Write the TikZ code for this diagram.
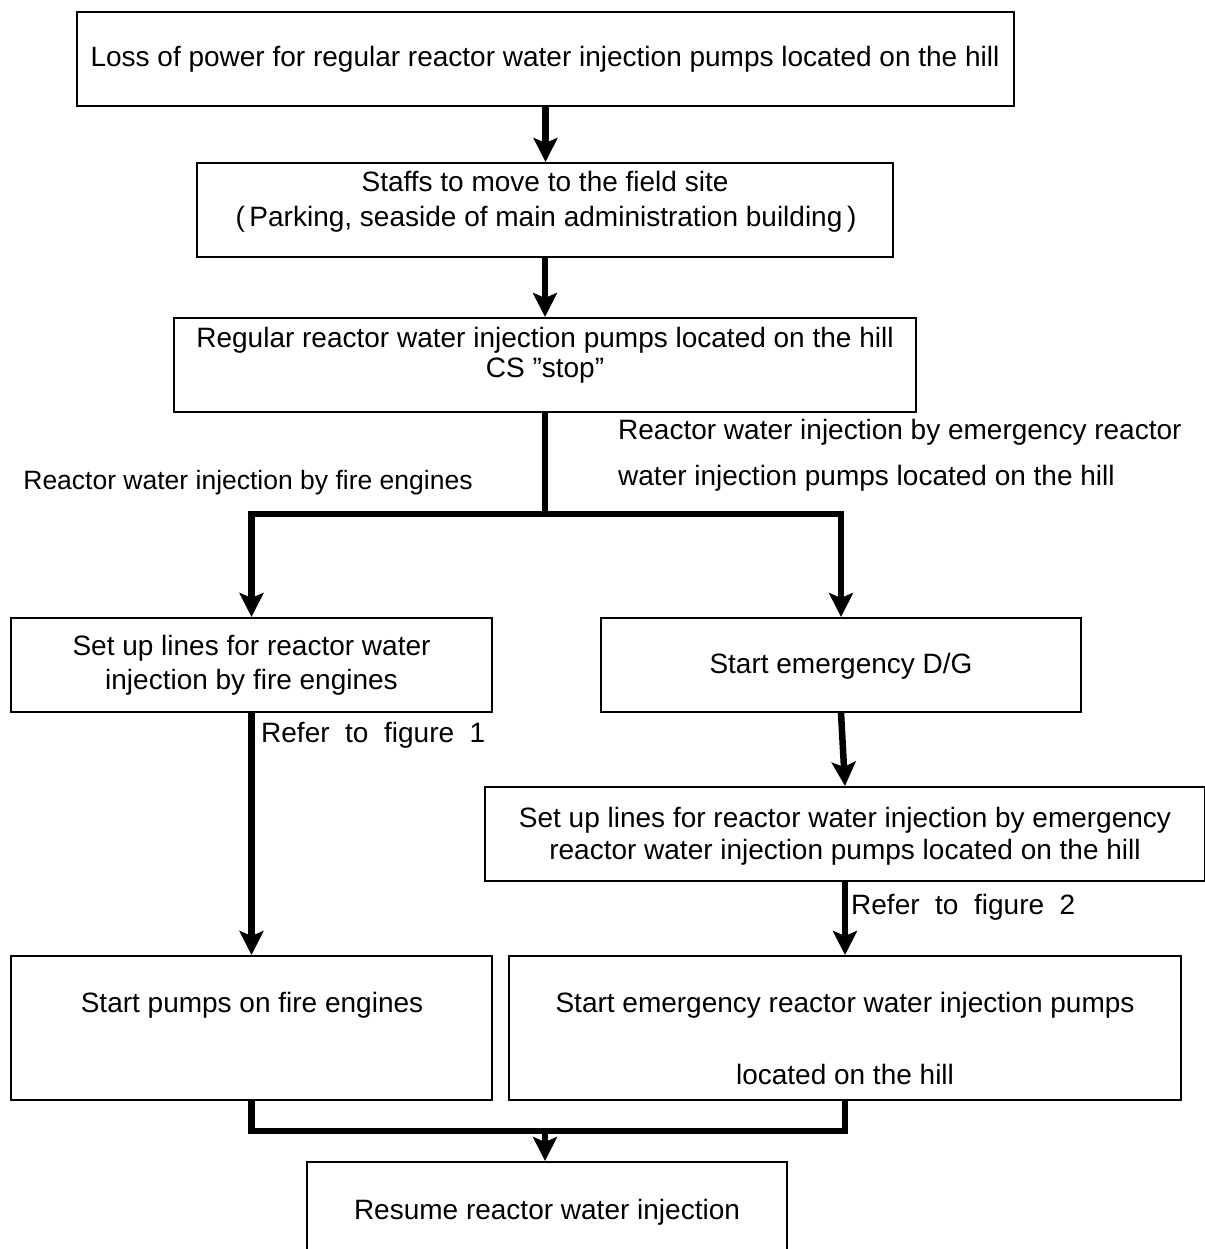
\documentclass[tikz,border=0pt]{standalone}
\usepackage{fontspec}
\setmainfont{Liberation Sans}
\usetikzlibrary{arrows.meta}
\begin{document}
\begin{tikzpicture}[x=1pt,y=-1pt,
  box/.style={draw,line width=2pt,inner sep=0pt,minimum width=#1},
  txt/.style={inner sep=0pt,text height=20pt,text depth=6pt,font=\fontsize{28}{34}\selectfont},
  small/.style={inner sep=0pt,text height=19pt,text depth=6pt,font=\fontsize{26.5}{32}\selectfont},
  flow/.style={line width=6.5pt},
  arr/.style={line width=6.5pt,-{Stealth[length=24pt,width=24pt,inset=5pt]}}]
\useasboundingbox (0,0) rectangle (1204,1249);
\fill[white] (0,0) rectangle (1204,1249);

% boxes
\node[box=937pt,minimum height=94pt] (b1) at (545.5,59) {};
\node[box=696pt,minimum height=94pt] (b2) at (545,210) {};
\node[box=742pt,minimum height=94pt] (b3) at (545,365) {};
\node[box=481pt,minimum height=94pt] (b4) at (251.5,665) {};
\node[box=480pt,minimum height=94pt] (b5) at (841,665) {};
\node[box=720pt,minimum height=94pt] (b6) at (845,834) {};
\node[box=481pt,minimum height=144pt] (b7) at (251.5,1028) {};
\node[box=672pt,minimum height=144pt] (b8) at (845,1028) {};
\node[box=480pt,minimum height=100pt] (b9) at (547,1212) {};

% box texts
\node[txt] (t1) at (545,60) {Loss of power for regular reactor water injection pumps located on the hill};
\node[txt] (t2a) at (545,185) {Staffs to move to the field site};
\node[txt] (t2b) at (546,220) {(\,Parking, seaside of main administration building\,)};
\node[txt] (t3a) at (545,340) {Regular reactor water injection pumps located on the hill};
\node[txt] (t3b) at (545,370) {CS ”stop”};
\node[txt] (t4a) at (251.5,648) {Set up lines for reactor water};
\node[txt] (t4b) at (251.5,682) {injection by fire engines};
\node[txt] (t5) at (841,666) {Start emergency D/G};
\node[txt] (t6a) at (845,820) {Set up lines for reactor water injection by emergency};
\node[txt] (t6b) at (845,852) {reactor water injection pumps located on the hill};
\node[txt] (t7) at (252,1005) {Start pumps on fire engines};
\node[txt] (t8a) at (845,1005) {Start emergency reactor water injection pumps};
\node[txt] (t8b) at (845,1077) {located on the hill};
\node[txt] (t9) at (547,1212) {Resume reactor water injection};

% branch labels
\node[small] (lL) at (248,483) {Reactor water injection by fire engines};
\node[txt,anchor=west] (lR1) at (618,432) {Reactor water injection by emergency reactor};
\node[txt,anchor=west] (lR2) at (618,478) {water injection pumps located on the hill};
\node[txt,anchor=west] (r1) at (261,735) {Refer\ \ to\ \ figure\ \ 1};
\node[txt,anchor=west] (r2) at (851,907) {Refer\ \ to\ \ figure\ \ 2};

% connectors
\draw[arr] (b1.south) -- (b1.south |- b2.north);
\draw[arr] (b2.south) -- (b3.north);

\coordinate (j) at (545,514);
\coordinate (jl) at (b4.north |- j);
\coordinate (jr) at (b5.north |- j);
\draw[flow] (b3.south) -- (j);
\draw[flow,line cap=rect] (jl) -- (jr);
\draw[arr] (jl) -- (b4.north);
\draw[arr] (jr) -- (b5.north);

\draw[arr] (b4.south) -- (b7.north);
\draw[arr] (b5.south) -- (b6.north);
\draw[arr] (b6.south) -- (b8.north);

\coordinate (m) at (545,1131);
\draw[flow,line join=miter] (b7.south) -- (b7.south |- m) -- (b8.south |- m) -- (b8.south);
\draw[arr] (m) -- (m |- b9.north);
\end{tikzpicture}
\end{document}
